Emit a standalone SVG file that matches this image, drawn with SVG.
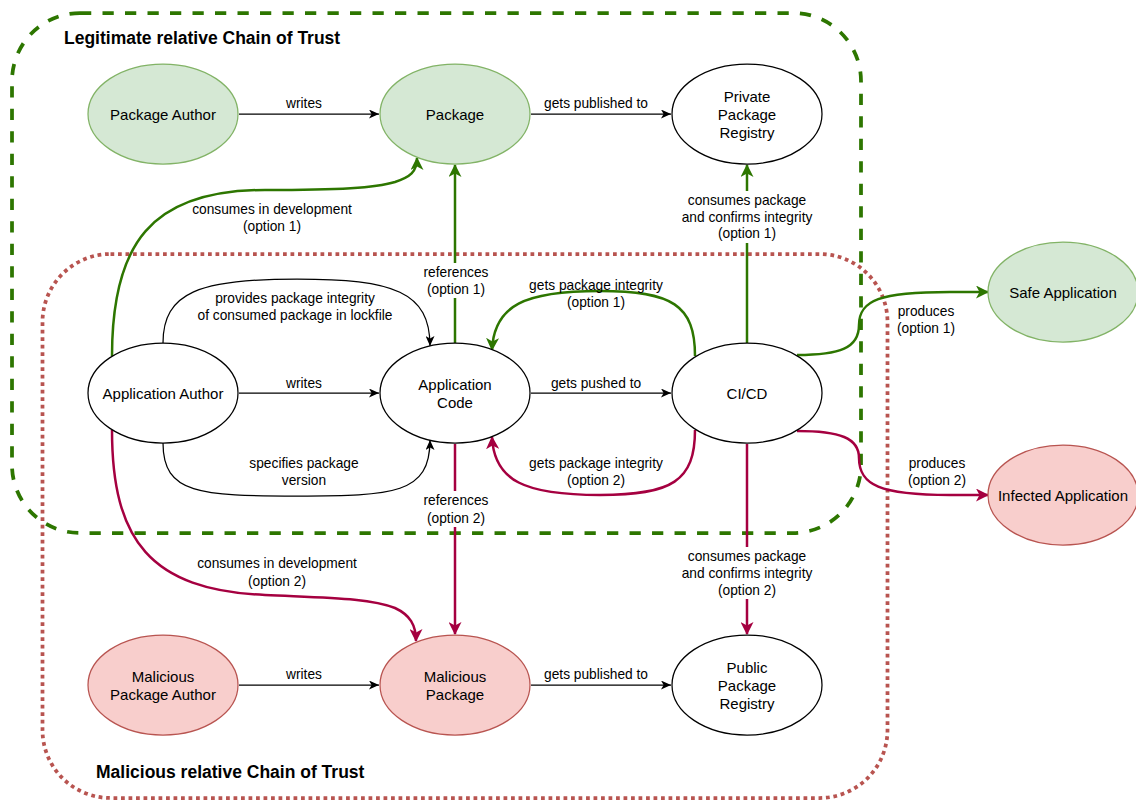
<svg xmlns="http://www.w3.org/2000/svg" width="1136" height="800" viewBox="0 0 1136 800">
  <style>
    .node-green { fill: #d5e8d4; stroke: #82b366; stroke-width: 1.25; }
    .node-red { fill: #f8cecc; stroke: #b85450; stroke-width: 1.25; }
    .node-plain { fill: #ffffff; stroke: #000000; stroke-width: 1.25; }
    .node-text { font-family: "Liberation Sans", Arial, sans-serif; font-size: 15px; fill: #000; text-anchor: middle; dominant-baseline: central; }
    .edge-text { font-family: "Liberation Sans", Arial, sans-serif; font-size: 13.75px; fill: #000; text-anchor: middle; dominant-baseline: central; }
    .title { font-family: "Liberation Sans", Arial, sans-serif; font-size: 17.5px; font-weight: bold; fill: #000; }
    .e-black { fill: none; stroke: #000; stroke-width: 1.25; marker-end: url(#arrow-black); }
    .e-green { fill: none; stroke: #2d7600; stroke-width: 2.5; marker-end: url(#arrow-green); }
    .e-red { fill: none; stroke: #a50040; stroke-width: 2.5; marker-end: url(#arrow-red); }
    .label-bg { fill: #ffffff; }
  </style>
  <defs>
    <marker id="arrow-black" markerUnits="userSpaceOnUse" viewBox="0 0 10 9" markerWidth="10" markerHeight="9" refX="10" refY="4.5" orient="auto">
      <path d="M0,0 L10,4.5 L0,9 L2.6,4.5 z" fill="#000"/>
    </marker>
    <marker id="arrow-green" markerUnits="userSpaceOnUse" viewBox="0 0 13 13" markerWidth="13" markerHeight="13" refX="12" refY="6.5" orient="auto">
      <path d="M0,0 L13,6.5 L0,13 L3.5,6.5 z" fill="#2d7600"/>
    </marker>
    <marker id="arrow-red" markerUnits="userSpaceOnUse" viewBox="0 0 13 13" markerWidth="13" markerHeight="13" refX="12" refY="6.5" orient="auto">
      <path d="M0,0 L13,6.5 L0,13 L3.5,6.5 z" fill="#a50040"/>
    </marker>
  </defs>

  <rect width="1136" height="800" fill="#ffffff"/>

  <!-- trust boundaries -->
  <g id="legitimate-chain">
    <rect x="12" y="13" width="849" height="520" rx="68" ry="68" fill="none" stroke="#2d7600" stroke-width="3.75" stroke-dasharray="11.25 11.25"/>
    <text class="title" x="64" y="44">Legitimate relative Chain of Trust</text>
  </g>
  <g id="malicious-chain">
    <rect x="42.5" y="254" width="845" height="544" rx="68" ry="68" fill="none" stroke="#b85450" stroke-width="3.75" stroke-dasharray="3.75 3.75"/>
    <text class="title" x="96" y="778">Malicious relative Chain of Trust</text>
  </g>

  <!-- connectors -->
  <g id="connectors">
    <path class="e-black" d="M239,114 L379,114"/>
    <text class="edge-text" x="304" y="103">writes</text>

    <path class="e-black" d="M531,114 L671,114"/>
    <text class="edge-text" x="596" y="103">gets published to</text>

    <path class="e-black" d="M239,393 L379,393"/>
    <text class="edge-text" x="304" y="383">writes</text>

    <path class="e-black" d="M531,393 L671,393"/>
    <text class="edge-text" x="596" y="383">gets pushed to</text>

    <path class="e-black" d="M163,343 C163,292 200,279 297,279 C394,279 430,292 430,346"/>
    <text class="edge-text" x="295" y="298">provides package integrity</text>
    <text class="edge-text" x="295" y="315">of consumed package in lockfile</text>

    <path class="e-black" d="M163,443 C163,494 200,496 297,496 C394,496 430,494 430,440"/>
    <text class="edge-text" x="304" y="463">specifies package</text>
    <text class="edge-text" x="304" y="480">version</text>

    <path class="e-black" d="M239,685 L379,685"/>
    <text class="edge-text" x="304" y="674">writes</text>

    <path class="e-black" d="M531,685 L671,685"/>
    <text class="edge-text" x="596" y="674">gets published to</text>

    <!-- option 1 (green) -->
    <path class="e-green" d="M112,356 C112,245 150,190 265,190 C340,190 375,188 395,182 C410,177 417,172 417,158"/>
    <text class="edge-text" x="272" y="209">consumes in development</text>
    <text class="edge-text" x="272" y="226">(option 1)</text>

    <path class="e-green" d="M455,343 L455,165"/>
    <rect class="label-bg" x="421" y="263" width="70" height="35"/>
    <text class="edge-text" x="456" y="272">references</text>
    <text class="edge-text" x="456" y="289">(option 1)</text>

    <path class="e-green" d="M747,343 L747,165"/>
    <rect class="label-bg" x="681" y="191" width="133" height="52"/>
    <text class="edge-text" x="747" y="200">consumes package</text>
    <text class="edge-text" x="747" y="217">and confirms integrity</text>
    <text class="edge-text" x="747" y="233">(option 1)</text>

    <path class="e-green" d="M695,356 C695,305 672,291 600,291 C525,291 494,305 492,350"/>
    <text class="edge-text" x="596" y="285">gets package integrity</text>
    <text class="edge-text" x="596" y="302">(option 1)</text>

    <path class="e-green" d="M797,355 C840,355 859,348 859,325 C859,300 880,292 950,292 L988,292"/>
    <text class="edge-text" x="926" y="311">produces</text>
    <text class="edge-text" x="926" y="328">(option 1)</text>

    <!-- option 2 (red) -->
    <path class="e-red" d="M112,430 C112,540 150,590 265,595 C330,598 370,598 395,608 C410,615 416,625 416,641"/>
    <text class="edge-text" x="277" y="563">consumes in development</text>
    <text class="edge-text" x="277" y="581">(option 2)</text>

    <path class="e-red" d="M455,444 L455,634"/>
    <rect class="label-bg" x="421" y="491" width="70" height="36"/>
    <text class="edge-text" x="456" y="500">references</text>
    <text class="edge-text" x="456" y="518">(option 2)</text>

    <path class="e-red" d="M747,444 L747,634"/>
    <rect class="label-bg" x="681" y="547" width="133" height="52"/>
    <text class="edge-text" x="747" y="556">consumes package</text>
    <text class="edge-text" x="747" y="573">and confirms integrity</text>
    <text class="edge-text" x="747" y="590">(option 2)</text>

    <path class="e-red" d="M695,430 C695,481 672,495 600,495 C525,495 494,481 492,437"/>
    <text class="edge-text" x="596" y="463">gets package integrity</text>
    <text class="edge-text" x="596" y="480">(option 2)</text>

    <path class="e-red" d="M797,431 C840,431 859,438 859,458 C859,485 880,495 950,495 L988,495"/>
    <text class="edge-text" x="937" y="463">produces</text>
    <text class="edge-text" x="937" y="480">(option 2)</text>
  </g>

  <!-- nodes -->
  <g id="package-author">
    <ellipse class="node-green" cx="163" cy="114" rx="75" ry="50"/>
    <text class="node-text" x="163" y="114">Package Author</text>
  </g>
  <g id="package">
    <ellipse class="node-green" cx="455" cy="114" rx="75" ry="50"/>
    <text class="node-text" x="455" y="114">Package</text>
  </g>
  <g id="private-registry">
    <ellipse class="node-plain" cx="747" cy="114" rx="75" ry="50"/>
    <text class="node-text" x="747" y="96">Private</text>
    <text class="node-text" x="747" y="114">Package</text>
    <text class="node-text" x="747" y="132">Registry</text>
  </g>
  <g id="application-author">
    <ellipse class="node-plain" cx="163" cy="393" rx="75" ry="50"/>
    <text class="node-text" x="163" y="393">Application Author</text>
  </g>
  <g id="application-code">
    <ellipse class="node-plain" cx="455" cy="393" rx="75" ry="50"/>
    <text class="node-text" x="455" y="384">Application</text>
    <text class="node-text" x="455" y="402">Code</text>
  </g>
  <g id="ci-cd">
    <ellipse class="node-plain" cx="747" cy="393" rx="75" ry="50"/>
    <text class="node-text" x="747" y="393">CI/CD</text>
  </g>
  <g id="safe-application">
    <ellipse class="node-green" cx="1063" cy="292" rx="75" ry="50"/>
    <text class="node-text" x="1063" y="292">Safe Application</text>
  </g>
  <g id="infected-application">
    <ellipse class="node-red" cx="1063" cy="495" rx="75" ry="50"/>
    <text class="node-text" x="1063" y="495">Infected Application</text>
  </g>
  <g id="malicious-package-author">
    <ellipse class="node-red" cx="163" cy="685" rx="75" ry="50"/>
    <text class="node-text" x="163" y="676">Malicious</text>
    <text class="node-text" x="163" y="694">Package Author</text>
  </g>
  <g id="malicious-package">
    <ellipse class="node-red" cx="455" cy="685" rx="75" ry="50"/>
    <text class="node-text" x="455" y="676">Malicious</text>
    <text class="node-text" x="455" y="694">Package</text>
  </g>
  <g id="public-registry">
    <ellipse class="node-plain" cx="747" cy="685" rx="75" ry="50"/>
    <text class="node-text" x="747" y="667">Public</text>
    <text class="node-text" x="747" y="685">Package</text>
    <text class="node-text" x="747" y="703">Registry</text>
  </g>
</svg>
